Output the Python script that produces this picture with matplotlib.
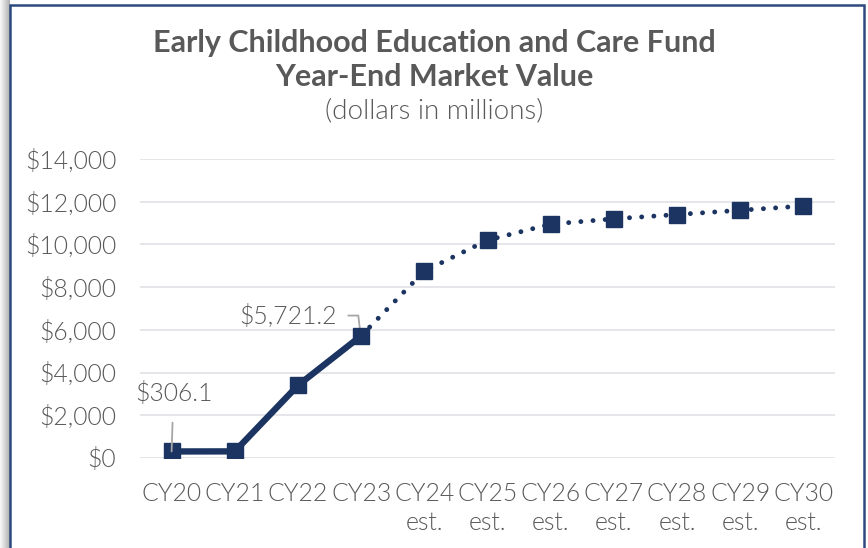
import matplotlib
matplotlib.use("Agg")
import matplotlib.pyplot as plt
import numpy as np
from matplotlib.patches import Rectangle

categories = ["CY20", "CY21", "CY22", "CY23", "CY24\nest.", "CY25\nest.", "CY26\nest.",
              "CY27\nest.", "CY28\nest.", "CY29\nest.", "CY30\nest."]
values = [306.1, 310, 3400, 5721.2, 8750, 10200, 10950, 11200, 11400, 11600, 11800]
actual_count = 4
yticks = [0, 2000, 4000, 6000, 8000, 10000, 12000, 14000]
ytick_labels = ["$0", "$2,000", "$4,000", "$6,000", "$8,000", "$10,000", "$12,000", "$14,000"]

NAVY = "#1B3461"
GREY_TXT = "#595959"
FONT = "Lato"
LIGHT = 300

fig = plt.figure(figsize=(8.68, 5.48), dpi=100)
W, H = 868, 548

# shadow + border
for i in range(10):
    fig.patches.append(Rectangle((i / W, 0), 1 / W, 1, transform=fig.transFigure,
                                 facecolor=str(1 - 0.03 * (i + 1)), edgecolor="none", zorder=-5))
fig.patches.append(Rectangle((10 / W, -0.05), 854 / W, 1.05 - 5 / H, transform=fig.transFigure,
                             facecolor="white", edgecolor="#2E4A7D", linewidth=1.8, zorder=-4))

ax = fig.add_axes([140 / W, 1 - 458 / H, 695 / W, 299 / H])
ax.set_facecolor("none")
x = np.arange(len(categories))

ax.plot(x[:actual_count], values[:actual_count], color=NAVY, lw=4.6, marker="s",
        markersize=11.5, solid_joinstyle="miter", zorder=3)
ax.plot(x[actual_count - 1:], values[actual_count - 1:], color=NAVY, lw=3.5,
        linestyle=(0, (0.01, 2.5)), dash_capstyle="round", zorder=3)
ax.plot(x[actual_count:], values[actual_count:], linestyle="none", marker="s",
        markersize=11.5, color=NAVY, zorder=4)

ax.set_xlim(-0.5, len(categories) - 0.5)
ax.set_ylim(0, 14000)
ax.set_yticks(yticks)
ax.set_yticklabels(ytick_labels)
ax.set_xticks(x)
ax.set_xticklabels(categories, linespacing=1.3)
ax.grid(axis="y", color="#E3E3E8", lw=1.3, zorder=0)
ax.set_axisbelow(True)
for s in ax.spines.values():
    s.set_visible(False)
ax.tick_params(length=0, labelsize=17.8, labelcolor=GREY_TXT)
ax.tick_params(axis="y", pad=17)
ax.tick_params(axis="x", pad=17)
for lab in ax.get_xticklabels() + ax.get_yticklabels():
    lab.set_fontfamily(FONT)
    lab.set_fontweight(LIGHT)

# data labels with leader lines
ax.annotate("$306.1", xy=(x[0], values[0]), xytext=(x[0] + 0.03, 3000),
            ha="center", va="center", fontsize=17.8, color=GREY_TXT, family=FONT,
            fontweight=LIGHT,
            arrowprops=dict(arrowstyle="-", color="#A6A6A6", lw=1.3, shrinkA=10, shrinkB=0))
ax.plot([x[3] - 0.2, x[3] - 0.045, x[3] - 0.01], [6670, 6670, 5800], color="#A6A6A6", lw=1.3, zorder=2)
ax.text(x[3] - 0.39, 6630, "$5,721.2", ha="right", va="center", fontsize=17.8,
        color=GREY_TXT, family=FONT, fontweight=LIGHT)

fig.text(0.5, 1 - 43 / H, "Early Childhood Education and Care Fund", ha="center", va="center",
         fontsize=22, fontweight="bold", color=GREY_TXT, family=FONT)
fig.text(0.5, 1 - 77 / H, "Year-End Market Value", ha="center", va="center",
         fontsize=22, fontweight="bold", color=GREY_TXT, family=FONT)
fig.text(0.5, 1 - 111 / H, "(dollars in millions)", ha="center", va="center",
         fontsize=20, color=GREY_TXT, family=FONT, fontweight=LIGHT)

fig.savefig("out.png", dpi=100)
